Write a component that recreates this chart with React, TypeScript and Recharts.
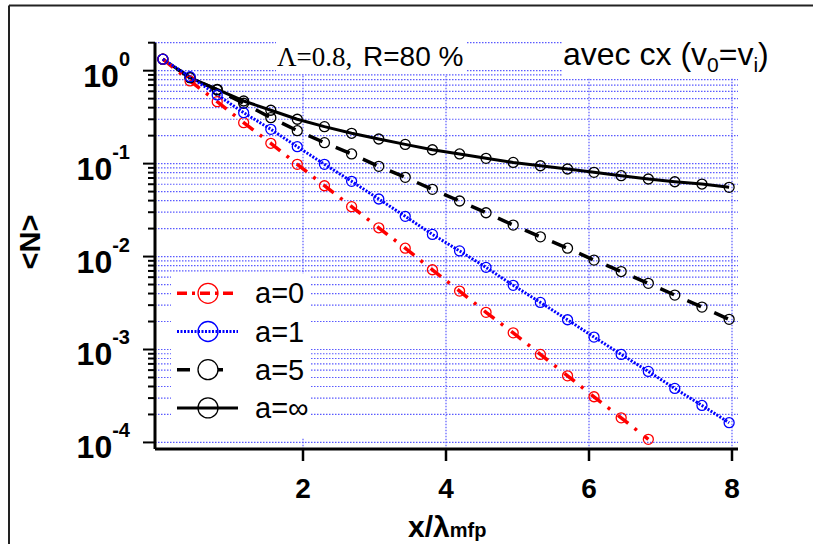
import { LineChart, Line, XAxis, YAxis, CartesianGrid } from 'recharts';

// x / lambda_mfp sample positions
const xPos = [0.04, 0.42, 0.80, 1.17, 1.55, 1.92, 2.30, 2.68, 3.06, 3.43, 3.81, 4.19, 4.56, 4.94, 5.32, 5.70, 6.07, 6.45, 6.83, 7.20, 7.58, 7.96];

// <N> for each a
const nA0 = [1.33, 0.775, 0.464, 0.276, 0.1655, 0.0983, 0.0578, 0.0344, 0.0204, 0.0123, 0.00721, 0.00425, 0.00251, 0.00151, 0.000886, 0.000521, 0.00031, 0.000184, 0.000108];
const nA1 = [1.33, 0.862, 0.548, 0.353, 0.234, 0.152, 0.0983, 0.0645, 0.0416, 0.0271, 0.0173, 0.0115, 0.00765, 0.0049, 0.00321, 0.00209, 0.00136, 0.000886, 0.000581, 0.000381, 0.00025, 0.000163];
const nA5 = [1.33, 0.84, 0.62, 0.446, 0.312, 0.226, 0.168, 0.127, 0.0935, 0.0712, 0.0529, 0.0396, 0.0296, 0.0218, 0.0163, 0.0123, 0.00917, 0.0069, 0.00515, 0.00385, 0.00286, 0.00211];
const nAInf = [1.33, 0.84, 0.63, 0.472, 0.375, 0.3, 0.25, 0.212, 0.184, 0.161, 0.141, 0.127, 0.114, 0.103, 0.0949, 0.0875, 0.0806, 0.0741, 0.0683, 0.0638, 0.0603, 0.0556];

const xTicks = [2, 4, 6, 8];
const yTicks = [
  0.0001, 0.0002, 0.0003, 0.0004, 0.0005, 0.0006, 0.0007, 0.0008, 0.0009,
  0.001, 0.002, 0.003, 0.004, 0.005, 0.006, 0.007, 0.008, 0.009,
  0.01, 0.02, 0.03, 0.04, 0.05, 0.06, 0.07, 0.08, 0.09,
  0.1, 0.2, 0.3, 0.4, 0.5, 0.6, 0.7, 0.8, 0.9,
  1, 2,
];

const data = xPos.map((x, i) => ({ x, a0: nA0[i], a1: nA1[i], a5: nA5[i], ainf: nAInf[i] }));

const series = [
  { key: 'ainf', name: 'a=∞', color: '#000000', width: 3, dash: undefined as string | undefined, legendDash: undefined as string | undefined },
  { key: 'a5', name: 'a=5', color: '#000000', width: 3.5, dash: '15 14.5', legendDash: '13 20' },
  { key: 'a0', name: 'a=0', color: '#ff0000', width: 3.5, dash: '13 8 3 10', legendDash: '10 5 3 5' },
  { key: 'a1', name: 'a=1', color: '#0000ff', width: 3, dash: '2 1.5', legendDash: '2 1.5' },
];
const legendOrder = ['a0', 'a1', 'a5', 'ainf'];

const SANS = '"Liberation Sans", Arial, sans-serif';
const SERIF = '"Liberation Serif", "Times New Roman", serif';
const GRID = '#5a5aff';

const YTick = (props: any) => {
  const { x, y, payload } = props;
  const lg = Math.log10(payload.value);
  const exp = Math.round(lg);
  const major = Math.abs(lg - exp) < 1e-6;
  return (
    <g>
      <line x1={x - (major ? 12 : 7)} x2={x} y1={y} y2={y} stroke="#000" strokeWidth={2} />
      {major && (
        <text x={x - 25} y={y + 16} textAnchor="end" fontFamily={SANS} fontSize={32} fontWeight="bold" fill="#000">
          10<tspan dy={-21} fontSize={20}>{exp}</tspan>
        </text>
      )}
    </g>
  );
};

const XTick = (props: any) => {
  const { x, y, payload } = props;
  return (
    <g>
      <line x1={x} x2={x} y1={y} y2={y + 12} stroke="#000" strokeWidth={2.5} />
      <text x={x} y={y + 49} textAnchor="middle" fontFamily={SANS} fontSize={28} fontWeight="bold" fill="#000">
        {payload.value}
      </text>
    </g>
  );
};

export default function App() {
  return (
    <div style={{ position: 'absolute', left: 0, top: 0, width: 813, height: 544, background: '#fff' }}>
      <LineChart width={813} height={544} data={data} margin={{ top: 42.7, right: 75, bottom: 65, left: 95 }}>
        <CartesianGrid stroke={GRID} strokeWidth={1.2} strokeDasharray="1.5 1.5" syncWithTicks />
        <XAxis
          dataKey="x"
          type="number"
          domain={[-0.07, 8.084]}
          ticks={xTicks}
          allowDataOverflow
          height={30}
          tickSize={0}
          tickMargin={0}
          tickLine={false}
          interval={0}
          tick={<XTick />}
          axisLine={{ stroke: '#000', strokeWidth: 3 }}
        />
        <YAxis
          scale="log"
          domain={[0.000085, 2]}
          ticks={yTicks}
          allowDataOverflow
          width={60}
          tickSize={0}
          tickMargin={0}
          tickLine={false}
          interval={0}
          tick={<YTick />}
          axisLine={{ stroke: '#000', strokeWidth: 3 }}
        />
        {series.map((s) => (
          <Line
            key={s.key}
            dataKey={s.key}
            name={s.name}
            type="linear"
            stroke={s.color}
            strokeWidth={s.width}
            strokeDasharray={s.dash}
            strokeDashoffset={s.key === 'a5' ? 12 : 0}
            dot={{ r: 5, stroke: s.color, strokeWidth: 1.3, fill: 'none', strokeDasharray: 'none' }}
            isAnimationActive={false}
          />
        ))}
      </LineChart>

      <svg width={813} height={544} style={{ position: 'absolute', left: 0, top: 0, pointerEvents: 'none' }}>
        {/* outer frame */}
        <line x1={9} y1={5.5} x2={813} y2={5.5} stroke="#222" strokeWidth={2} />
        <line x1={9} y1={5.5} x2={9} y2={544} stroke="#222" strokeWidth={2} />

        {/* title boxes */}
        <rect x={276} y={36} width={190} height={38} fill="#fff" />
        <text x={277} y={66} fontFamily={SERIF} fontSize={27} fill="#000">Λ=0.8,</text>
        <text x={363} y={66} fontFamily={SANS} fontSize={28} fill="#000">R=80 %</text>
        <rect x={563} y={36} width={222} height={42} fill="#fff" />
        <text x={563} y={65} fontFamily={SANS} fontSize={32} fill="#000">
          avec cx (v<tspan dy={7} fontSize={21}>0</tspan>
          <tspan dy={-7}>=v</tspan>
          <tspan dy={7} fontSize={21}>i</tspan>
          <tspan dy={-7}>)</tspan>
        </text>

        {/* legend */}
        <rect x={171} y={274} width={139} height={164} fill="#fff" />
        {legendOrder.map((k, i) => {
          const s = series.find((d) => d.key === k)!;
          const cy = 293.3 + i * 38.2;
          return (
            <g key={k}>
              <line
                x1={177}
                x2={s.key === 'a5' ? 224 : 238}
                y1={cy}
                y2={cy}
                stroke={s.color}
                strokeWidth={s.width}
                strokeDasharray={s.legendDash}
              />
              <circle cx={208} cy={cy} r={10} fill={s.key === 'a5' ? '#fff' : 'none'} stroke={s.color} strokeWidth={1.3} />
              <text x={255} y={cy + 10} fontFamily={SANS} fontSize={29} fill="#000">{s.name}</text>
            </g>
          );
        })}

        {/* axis titles */}
        <text transform="translate(40,242) rotate(-90)" textAnchor="middle" fontFamily={SANS} fontSize={29} fontWeight="bold" fill="#000">
          &lt;N&gt;
        </text>
        <text x={408} y={537} fontFamily={SANS} fontSize={30} fontWeight="bold" fill="#000">
          x/λ<tspan fontSize={20}>mfp</tspan>
        </text>
      </svg>
    </div>
  );
}
